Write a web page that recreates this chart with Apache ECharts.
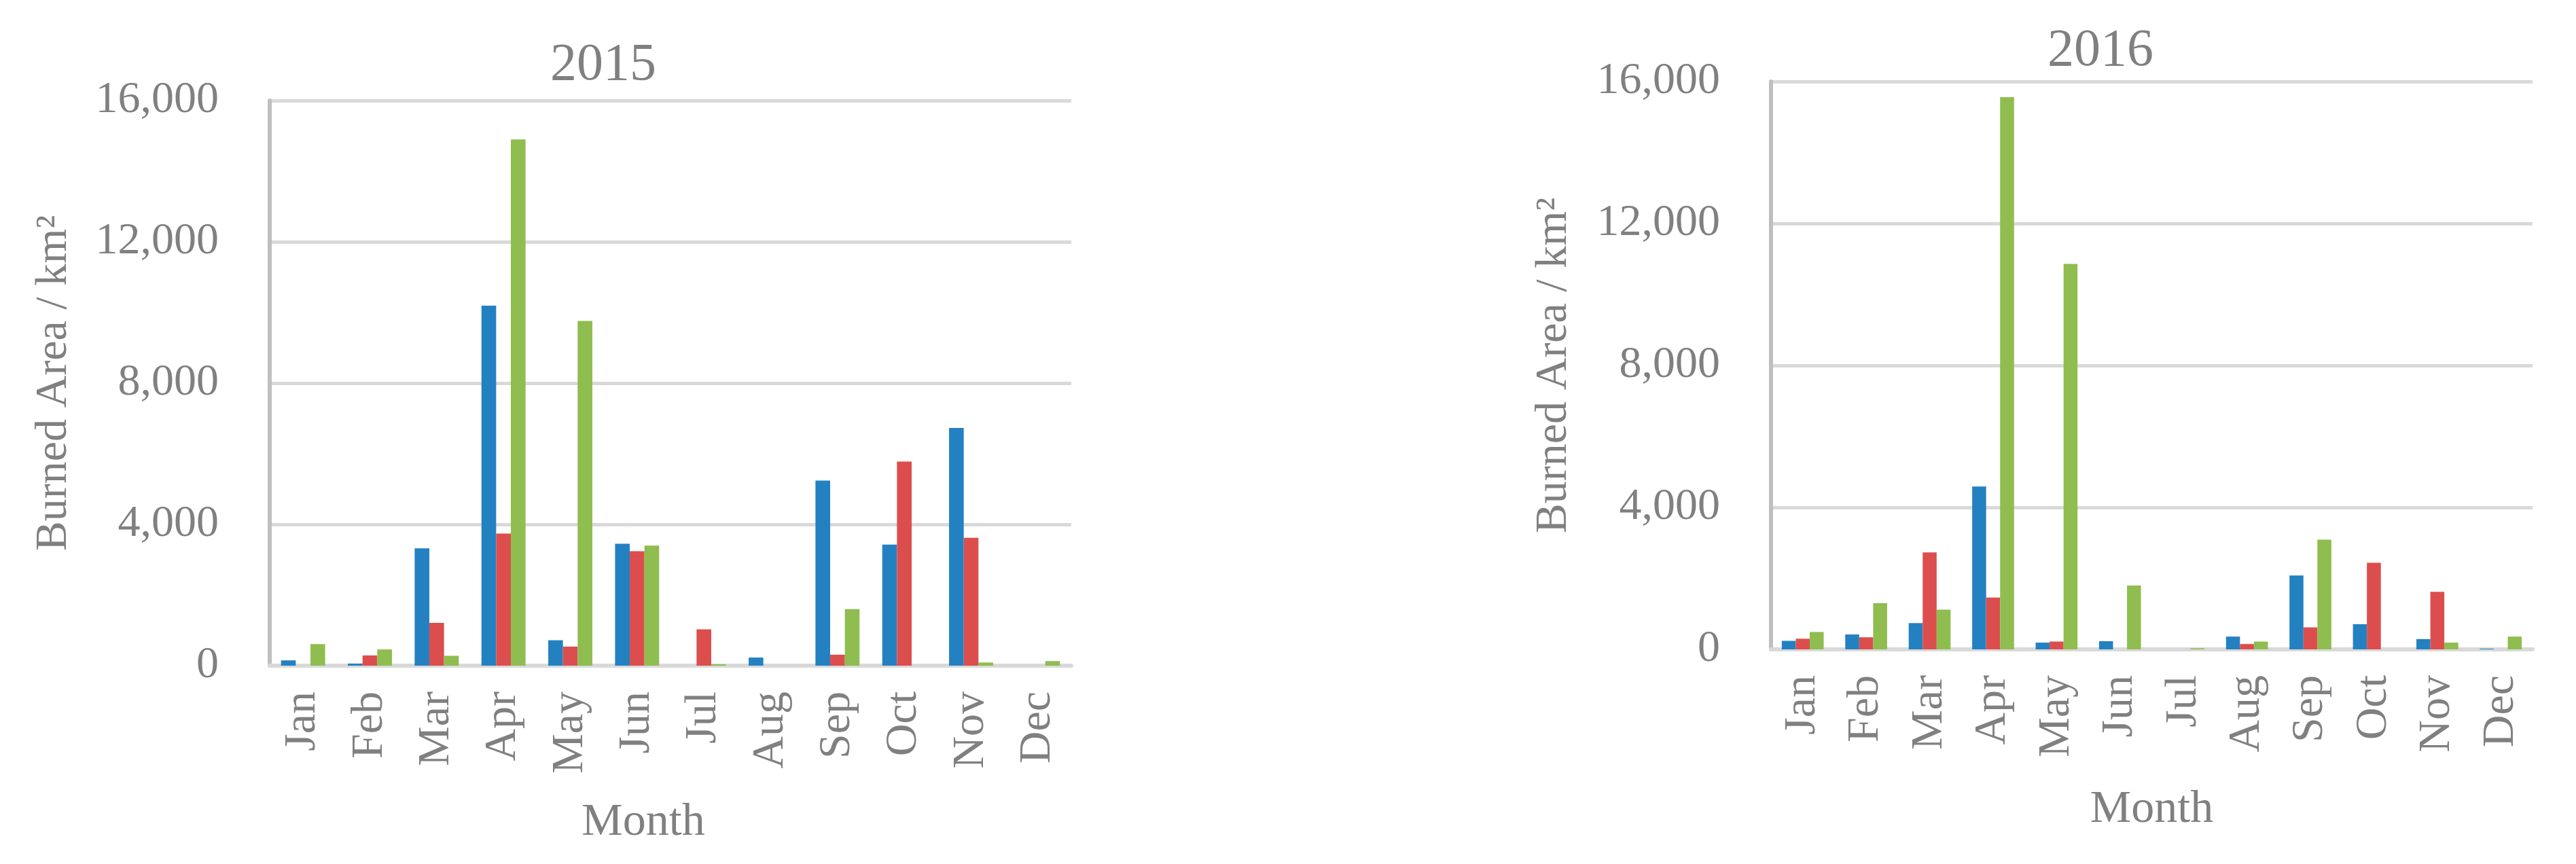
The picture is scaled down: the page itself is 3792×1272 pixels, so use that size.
<!DOCTYPE html>
<html>
<head>
<meta charset="utf-8">
<script src="https://cdn.jsdelivr.net/npm/echarts@6/dist/echarts.min.js"></script>
<style>
html,body{margin:0;padding:0;background:#fff;}
#chart{width:3792px;height:1272px;}
</style>
</head>
<body>
<div id="chart"></div>
<script>
const months = ['Jan','Feb','Mar','Apr','May','Jun','Jul','Aug','Sep','Oct','Nov','Dec'];
const yTicks = [0, 4000, 8000, 12000, 16000];

// 2015 burned area (km²)
const s2015_blue  = [150, 60, 3320, 10190, 720, 3450, 0, 230, 5240, 3430, 6730, 0];
const s2015_red   = [0, 290, 1210, 3740, 540, 3240, 1030, 0, 310, 5780, 3620, 0];
const s2015_green = [610, 460, 280, 14900, 9760, 3400, 40, 0, 1600, 0, 90, 130];

// 2016 burned area (km²)
const s2016_blue  = [240, 420, 740, 4590, 190, 230, 0, 360, 2080, 710, 290, 20];
const s2016_red   = [300, 340, 2730, 1460, 220, 0, 0, 150, 620, 2440, 1620, 0];
const s2016_green = [490, 1300, 1120, 15560, 10860, 1800, 30, 220, 3090, 0, 190, 360];

const titles = ['2015', '2016'];
const colors = ['#2481C1', '#DC4E4D', '#8FBD50'];

const FONT = 'Liberation Serif';
const GREY = '#808080';

function fmt(v){ return String(v).replace(/\B(?=(\d{3})+(?!\d))/g, ','); }

const grids = [
  {left: 397, top: 148, width: 1180, height: 832},
  {left: 2607, top: 120, width: 1121, height: 836}
];

function xAxis(i, gap, pad){
  return {
    type: 'category', gridIndex: i, data: months,
    name: 'Month', nameLocation: 'middle', nameGap: gap,
    nameTextStyle: {fontFamily: FONT, fontSize: 68, color: GREY, padding: pad},
    axisLine: {show: true, lineStyle: {color: '#D9D9D9', width: 6}},
    axisTick: {show: false},
    axisLabel: {rotate: 90, interval: 0, margin: 38, fontFamily: FONT, fontSize: 66, color: GREY},
    splitLine: {show: false}
  };
}
function yAxis(i, gap){
  return {
    type: 'value', gridIndex: i, min: yTicks[0], max: yTicks[yTicks.length-1], interval: yTicks[1]-yTicks[0],
    name: 'Burned Area / km²', nameLocation: 'middle', nameRotate: 90, nameGap: gap,
    nameTextStyle: {fontFamily: FONT, fontSize: 66, color: GREY},
    axisLine: {show: true, lineStyle: {color: '#BFBFBF', width: 6}},
    axisTick: {show: false},
    axisLabel: {margin: 75, fontFamily: FONT, fontSize: 66, color: GREY, formatter: fmt},
    splitLine: {show: true, lineStyle: {color: '#D9D9D9', width: 5}}
  };
}
function bar(name, data, idx, color){
  return {
    type: 'bar', name: name, data: data, xAxisIndex: idx, yAxisIndex: idx,
    barGap: '0%', barCategoryGap: '34%',
    itemStyle: {color: color}, silent: true
  };
}

const chart = echarts.init(document.getElementById('chart'), null, {renderer: 'canvas'});
chart.setOption({
  animation: false,
  backgroundColor: '#ffffff',
  title: [
    {text: titles[0], left: 883, top: 53, textAlign: 'center',
     textStyle: {fontFamily: FONT, fontSize: 78, fontWeight: 'normal', color: GREY}},
    {text: titles[1], left: 3087, top: 32, textAlign: 'center',
     textStyle: {fontFamily: FONT, fontSize: 78, fontWeight: 'normal', color: GREY}}
  ],
  grid: grids,
  xAxis: [xAxis(0, 197, [0, 80, 0, 0]), xAxis(1, 202, 0)],
  yAxis: [yAxis(0, 284), yAxis(1, 286)],
  series: [
    bar('Series 1', s2015_blue, 0, colors[0]),
    bar('Series 2', s2015_red, 0, colors[1]),
    bar('Series 3', s2015_green, 0, colors[2]),
    bar('Series 1', s2016_blue, 1, colors[0]),
    bar('Series 2', s2016_red, 1, colors[1]),
    bar('Series 3', s2016_green, 1, colors[2])
  ]
});
</script>
</body>
</html>
